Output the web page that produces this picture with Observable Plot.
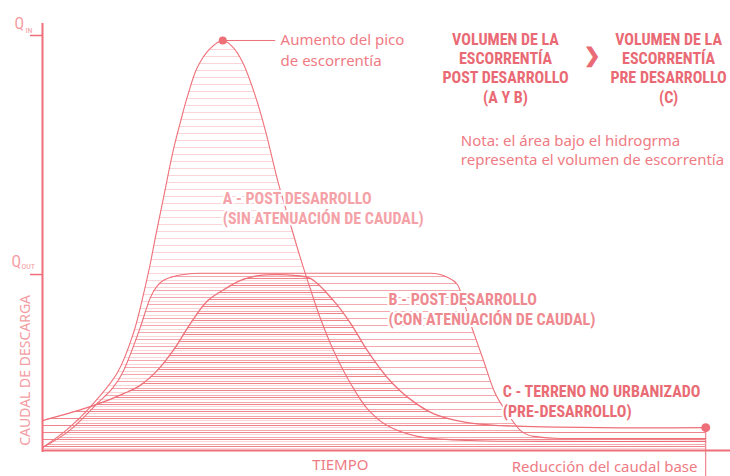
<!DOCTYPE html>
<html>
<head>
<meta charset="utf-8">
<script src="https://cdn.jsdelivr.net/npm/d3@7"></script>
<script src="https://cdn.jsdelivr.net/npm/@observablehq/plot@0.6"></script>
<style>
  html, body { margin: 0; padding: 0; background: #ffffff; }
  #chart { width: 730px; height: 476px; overflow: hidden; }
</style>
</head>
<body>
<div id="chart"></div>
<script>
// ---- Hydrograph A: post-development, no flow attenuation ----
const timeA = [0, 3.6, 7.0, 10.9, 13.2, 14.7, 15.7, 16.4, 17.6, 19.0, 20.1, 21.1, 22.5, 24.4, 26.2, 27.6, 29.1, 31.0, 32.4, 34.3, 36.0, 37.5, 39.0, 40.4, 42.3, 44.8, 47.2, 50.1, 54.5, 62.2, 72.4, 96.4];
const flowA = [0.7, 5.1, 10.6, 18.8, 28.2, 37.8, 45.3, 51.3, 61.0, 72.3, 79.5, 85.5, 92.3, 96.9, 98.8, 97.3, 93.5, 85.1, 77.1, 64.3, 54.7, 46.3, 38.6, 31.8, 24.1, 16.1, 10.1, 6.0, 3.4, 2.4, 2.2, 2.2];

// ---- Hydrograph B: post-development, with flow attenuation ----
const timeB = [0, 3.9, 7.4, 11.8, 14.2, 15.7, 17.6, 20.5, 23.0, 37.5, 56.4, 58.9, 60.3, 62.2, 64.1, 65.6, 67.6, 69.5, 71.4, 75.3, 96.4];
const flowB = [0.7, 4.8, 10.4, 19.3, 29.6, 36.9, 41.0, 42.4, 42.7, 42.7, 42.7, 41.7, 40.0, 30.6, 21.7, 14.5, 8.9, 4.8, 3.4, 2.9, 2.9];

// ---- Hydrograph C: undeveloped land (pre-development) ----
const timeC = [0, 7.4, 11.8, 14.2, 16.7, 19.0, 21.5, 24.0, 26.9, 28.8, 31.6, 34.2, 36.5, 39.0, 42.3, 44.8, 47.2, 50.1, 53.1, 56.8, 61.8, 66.6, 81.1, 96.4];
const flowC = [7.2, 10.8, 13.7, 15.7, 19.3, 24.1, 30.6, 36.1, 39.3, 41.0, 42.2, 42.4, 42.2, 41.4, 36.1, 30.6, 24.1, 17.6, 12.8, 8.9, 6.7, 6.0, 5.5, 5.5];

// ---- Axis ticks ----
const tickValues = [100, 42.4];
const tickMain = ["Q", "Q"];
const tickSub = ["IN", "OUT"];

// ---- Texts ----
const peakNote = "Aumento del pico\nde escorrentía";
const headingPost = "VOLUMEN DE LA\nESCORRENTÍA\nPOST DESARROLLO\n(A Y B)";
const headingPre = "VOLUMEN DE LA\nESCORRENTÍA\nPRE DESARROLLO\n(C)";
const noteText = "Nota: el área bajo el hidrogrma\nrepresenta el volumen de escorrentía";
const labelA = "A - POST DESARROLLO\n(SIN ATENUACIÓN DE CAUDAL)";
const labelB = "B - POST DESARROLLO\n(CON ATENUACIÓN DE CAUDAL)";
const labelC = "C - TERRENO NO URBANIZADO\n(PRE-DESARROLLO)";
const xTitle = "TIEMPO";
const yTitle = "CAUDAL DE DESCARGA";
const baseNote = "Reducción del caudal base";

const A = timeA.map((t, i) => ({t, q: flowA[i]}));
const B = timeB.map((t, i) => ({t, q: flowB[i]}));
const C = timeC.map((t, i) => ({t, q: flowC[i]}));
const ticks = tickValues.map((q, i) => ({q, main: tickMain[i], sub: tickSub[i]}));

const peak = A.reduce((a, b) => (b.q > a.q ? b : a));
const endC = C[C.length - 1];

const RED = "#ee6f78";
const TEXT = "#ef7b84";
const HEAD = "#e96a74";
const QCOL = "#f49ca2";
const BODY_FONT = "'Noto Sans', 'Open Sans', sans-serif";
const BOLD_FONT = "'Liberation Sans Narrow', 'Roboto Condensed', 'DejaVu Sans Condensed', sans-serif";

const hatches = [
  {id: "hatchA", period: 7, offset: 0, color: "#fad5d8"},
  {id: "hatchB", period: 7, offset: 3, color: "#f4a8ad"},
  {id: "hatchC", period: 7, offset: 5, color: "#ee858c"}
];

function hatchDefs() {
  const ns = "http://www.w3.org/2000/svg";
  const defs = document.createElementNS(ns, "defs");
  for (const h of hatches) {
    const p = document.createElementNS(ns, "pattern");
    p.setAttribute("id", h.id);
    p.setAttribute("patternUnits", "userSpaceOnUse");
    p.setAttribute("x", 0);
    p.setAttribute("y", h.offset);
    p.setAttribute("width", 20);
    p.setAttribute("height", h.period);
    const l = document.createElementNS(ns, "line");
    l.setAttribute("x1", 0); l.setAttribute("x2", 20);
    l.setAttribute("y1", 0.5); l.setAttribute("y2", 0.5);
    l.setAttribute("stroke", h.color);
    l.setAttribute("stroke-width", 1);
    p.appendChild(l);
    defs.appendChild(p);
  }
  return defs;
}

const smooth = "catmull-rom";
const flat = "monotone-x";
const labelStyle = {fontFamily: BOLD_FONT, fontWeight: "bold", fontSize: 16, lineHeight: 1.25, lineAnchor: "top", textAnchor: "start", stroke: "white", strokeWidth: 4};
const qStyle = {x: 0, y: "q", textAnchor: "start", lineAnchor: "bottom", fill: QCOL, fontFamily: BOLD_FONT};

const chart = Plot.plot({
  width: 730,
  height: 476,
  marginLeft: 42,
  marginRight: 0,
  marginTop: 35,
  marginBottom: 26,
  x: {domain: [0, 100], axis: null},
  y: {domain: [0, 100], axis: null},
  style: {background: "white", overflow: "visible"},
  marks: [
    hatchDefs,
    // hatched areas
    Plot.areaY(A, {x: "t", y: "q", fill: "url(#hatchA)", curve: smooth}),
    Plot.areaY(B, {x: "t", y: "q", fill: "url(#hatchB)", curve: flat}),
    Plot.areaY(C, {x: "t", y: "q", fill: "url(#hatchC)", curve: smooth}),
    // hydrograph outlines
    Plot.lineY(A, {x: "t", y: "q", stroke: RED, strokeWidth: 1.1, curve: smooth}),
    Plot.lineY(B, {x: "t", y: "q", stroke: RED, strokeWidth: 1.1, curve: flat}),
    Plot.lineY(C, {x: "t", y: "q", stroke: RED, strokeWidth: 1.3, curve: smooth}),
    // axes
    Plot.ruleX([0], {y1: -0.5, y2: 102.9, stroke: RED, strokeWidth: 2}),
    Plot.ruleY([0], {x1: 0, x2: 100, stroke: RED, strokeWidth: 2}),
    Plot.ruleY(ticks, {y: "q", x1: -1.75, x2: 0, stroke: RED, strokeWidth: 1.5}),
    Plot.text([ticks[0]], {...qStyle, text: "main", dx: -28, dy: -6.5, fontSize: 16}),
    Plot.text([ticks[0]], {...qStyle, text: "sub", dx: -17, dy: -2.5, fontSize: 8}),
    Plot.text([ticks[1]], {...qStyle, text: "main", dx: -31, dy: -8, fontSize: 16}),
    Plot.text([ticks[1]], {...qStyle, text: "sub", dx: -21, dy: -6, fontSize: 8}),
    Plot.text([yTitle], {x: -2.45, y: 19.3, text: d => d, rotate: -90, textAnchor: "middle", lineAnchor: "middle", fontSize: 14, fill: QCOL, fontFamily: BODY_FONT}),
    Plot.text([xTitle], {x: 43.3, y: -2.2, text: d => d, textAnchor: "middle", lineAnchor: "top", fontSize: 15, fill: TEXT, fontFamily: BODY_FONT}),
    // peak annotation
    Plot.ruleY([peak], {y: "q", x1: "t", x2: 33.9, stroke: RED, strokeWidth: 1}),
    Plot.dot([peak], {x: "t", y: "q", r: 4, fill: RED}),
    Plot.text([peakNote], {x: 34.6, y: 101.2, text: d => d, textAnchor: "start", lineAnchor: "top", lineHeight: 1.38, fontSize: 15, fill: TEXT, fontFamily: BODY_FONT}),
    // headings
    Plot.text([headingPost], {x: 67.3, y: 101.0, text: d => d, textAnchor: "middle", lineAnchor: "top", lineHeight: 1.2, fontSize: 16, fontWeight: "bold", fill: HEAD, fontFamily: BOLD_FONT}),
    Plot.text([headingPre], {x: 91.0, y: 101.0, text: d => d, textAnchor: "middle", lineAnchor: "top", lineHeight: 1.2, fontSize: 16, fontWeight: "bold", fill: HEAD, fontFamily: BOLD_FONT}),
    Plot.text(["❯"], {x: 79.9, y: 95.2, text: d => d, textAnchor: "middle", lineAnchor: "middle", fontSize: 20, fill: HEAD, stroke: HEAD, strokeWidth: 0.8, fontFamily: "'DejaVu Sans', sans-serif"}),
    Plot.text([noteText], {x: 60.8, y: 76.9, text: d => d, textAnchor: "start", lineAnchor: "top", lineHeight: 1.33, fontSize: 15, fill: TEXT, fontFamily: BODY_FONT}),
    // curve labels
    Plot.text([labelA], {x: 26.2, y: 62.8, text: d => d, fill: "#f4a2a7", ...labelStyle}),
    Plot.text([labelB], {x: 50.3, y: 38.4, text: d => d, fill: "#ee8990", ...labelStyle}),
    Plot.text([labelC], {x: 66.9, y: 16.2, text: d => d, fill: "#e96c75", ...labelStyle}),
    // base flow annotation
    Plot.ruleX([endC], {x: "t", y1: "q", y2: -6.5, stroke: RED, strokeWidth: 1}),
    Plot.dot([endC], {x: "t", y: "q", r: 4.5, fill: RED}),
    Plot.text([baseNote], {x: 95.2, y: -2.7, text: d => d, textAnchor: "end", lineAnchor: "top", fontSize: 15, fill: TEXT, fontFamily: BODY_FONT})
  ]
});

document.getElementById("chart").appendChild(chart);
</script>
</body>
</html>
